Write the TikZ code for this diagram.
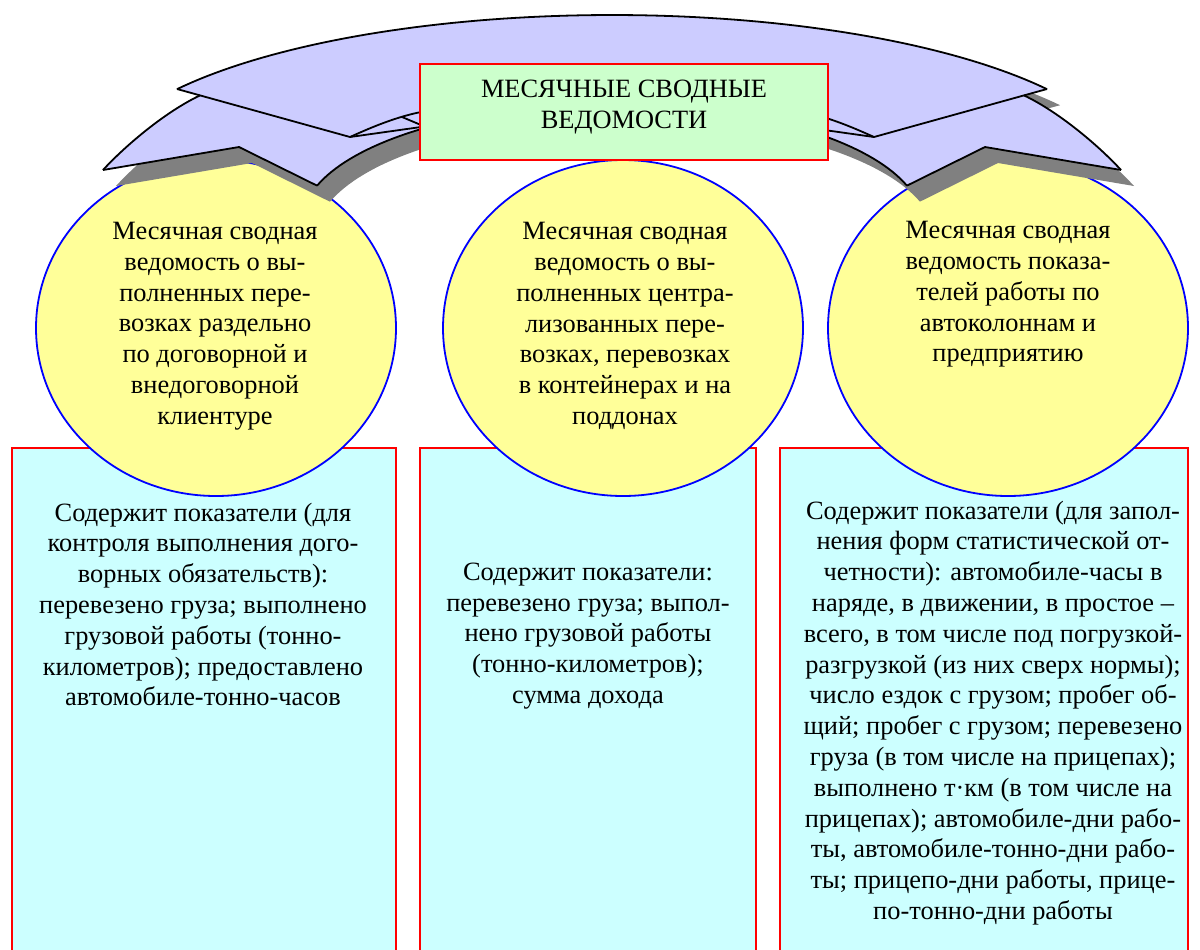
\documentclass[tikz,border=0pt]{standalone}
\usepackage{fontspec}
\setmainfont{Liberation Serif}
\usetikzlibrary{shapes.geometric}
\definecolor{lav}{HTML}{CCCCFF}
\definecolor{mint}{HTML}{CCFFCC}
\definecolor{pale}{HTML}{FFFF99}
\definecolor{aqua}{HTML}{CCFFFF}
\definecolor{shadowgray}{HTML}{808080}
\def\bandshape{(103,170) .. controls (125,146) and (165,112) .. (200,95.4)
  -- (177,89)
  -- plot[domain=33.2:146.8, samples=80, variable=\t] ({612-520*cos(\t)},{179-164*sin(\t)})
  -- (1024,95.4) .. controls (1059,112) and (1099,146) .. (1121,170)
  -- (985,147) -- (907,185.6)
  -- plot[domain=17.9:162.1, samples=80, variable=\t] ({612+310*cos(\t)},{222-118*sin(\t)})
  -- (239,147) -- cycle}
\begin{document}
\begin{tikzpicture}[x=0.5pt,y=-0.5pt,
  txt/.style={font={\fontsize{13.2}{15.4}\selectfont}, align=center, inner sep=0pt},
  infobox/.style={draw=red, line width=1pt, fill=aqua, inner sep=0pt, minimum height=251.5pt},
  oval/.style={ellipse, draw=blue, line width=0.9pt, fill=pale, inner sep=0pt, minimum width=180pt, minimum height=168pt},
  titlebox/.style={draw=red, line width=1pt, fill=mint, inner sep=0pt, minimum width=204pt, minimum height=48pt},
  band/.style={line width=0.9pt, line join=miter}
]
\useasboundingbox (0,0) rectangle (1200,949);

% lower boxes
\node[infobox, minimum width=192pt] (r1) at (204,699.5) {};
\node[infobox, minimum width=168pt] (r2) at (588,699.5) {};
\node[infobox, minimum width=204pt] (r3) at (984,699.5) {};

% ovals
\node[oval] (e1) at (216,328) {};
\node[oval] (e2) at (623,328) {};
\node[oval] (e3) at (1008,328) {};

% curved double arrow with shadow
\begin{scope}[shift={(13,16)}]
  \fill[shadowgray] \bandshape;
\end{scope}
\fill[lav] \bandshape;
\draw[band] (103,170) .. controls (125,146) and (165,112) .. (200,95.4);
\draw[band] (177,89) -- (350,137);
\draw[band] plot[domain=33.2:146.8, samples=80, variable=\t] ({612-520*cos(\t)},{179-164*sin(\t)});
\draw[band] (1121,170) .. controls (1099,146) and (1059,112) .. (1024,95.4);
\draw[band] (1047,89) -- (874,137);
\draw[band] (103,170) -- (239,147) -- (317,185.6);
\draw[band] (1121,170) -- (985,147) -- (907,185.6);
\draw[band] plot[domain=17.9:162.1, samples=80, variable=\t] ({612+310*cos(\t)},{222-118*sin(\t)});
\draw[band] (350,137) .. controls (372,127) and (396,117) .. (421,112);
\draw[band] (350,137) -- (421,127);
\draw[band] (402,117) -- (421,125);
\draw[band] (874,137) .. controls (852,127) and (828,117) .. (803,112);
\draw[band] (874,137) -- (803,127);

% title
\node[titlebox] (title) at (624,112) {};
\node[txt] (titletext) at (624,107) {МЕСЯЧНЫЕ СВОДНЫЕ\\ВЕДОМОСТИ};

% oval texts
\node[txt] (t1) at (215,326) {Месячная сводная\\ведомость о вы-\\полненных пере-\\возках раздельно\\по договорной и\\внедоговорной\\клиентуре};
\node[txt] (t2) at (625,326) {Месячная сводная\\ведомость о вы-\\полненных центра-\\лизованных пере-\\возках, перевозках\\в контейнерах и на\\поддонах};
\node[txt] (t3) at (1008,294.5) {Месячная сводная\\ведомость показа-\\телей работы по\\автоколоннам и\\предприятию};

% box texts
\node[txt] (b1) at (203,604.5) {Содержит показатели (для\\контроля выполнения дого-\\ворных обязательств):\\перевезено груза; выполнено\\грузовой работы (тонно-\\километров); предоставлено\\автомобиле-тонно-часов};
\node[txt] (b2) at (588,636) {Содержит показатели:\\перевезено груза; выпол-\\нено грузовой работы\\(тонно-километров);\\сумма дохода};
\node[txt] (b3) at (993,713) {Содержит показатели (для запол-\\нения форм статистической от-\\четности): автомобиле-часы в\\наряде, в движении, в простое –\\всего, в том числе под погрузкой-\\разгрузкой (из них сверх нормы);\\число ездок с грузом; пробег об-\\щий; пробег с грузом; перевезено\\груза (в том числе на прицепах);\\выполнено т·км (в том числе на\\прицепах); автомобиле-дни рабо-\\ты, автомобиле-тонно-дни рабо-\\ты; прицепо-дни работы, прице-\\по-тонно-дни работы};
\end{tikzpicture}
\end{document}
